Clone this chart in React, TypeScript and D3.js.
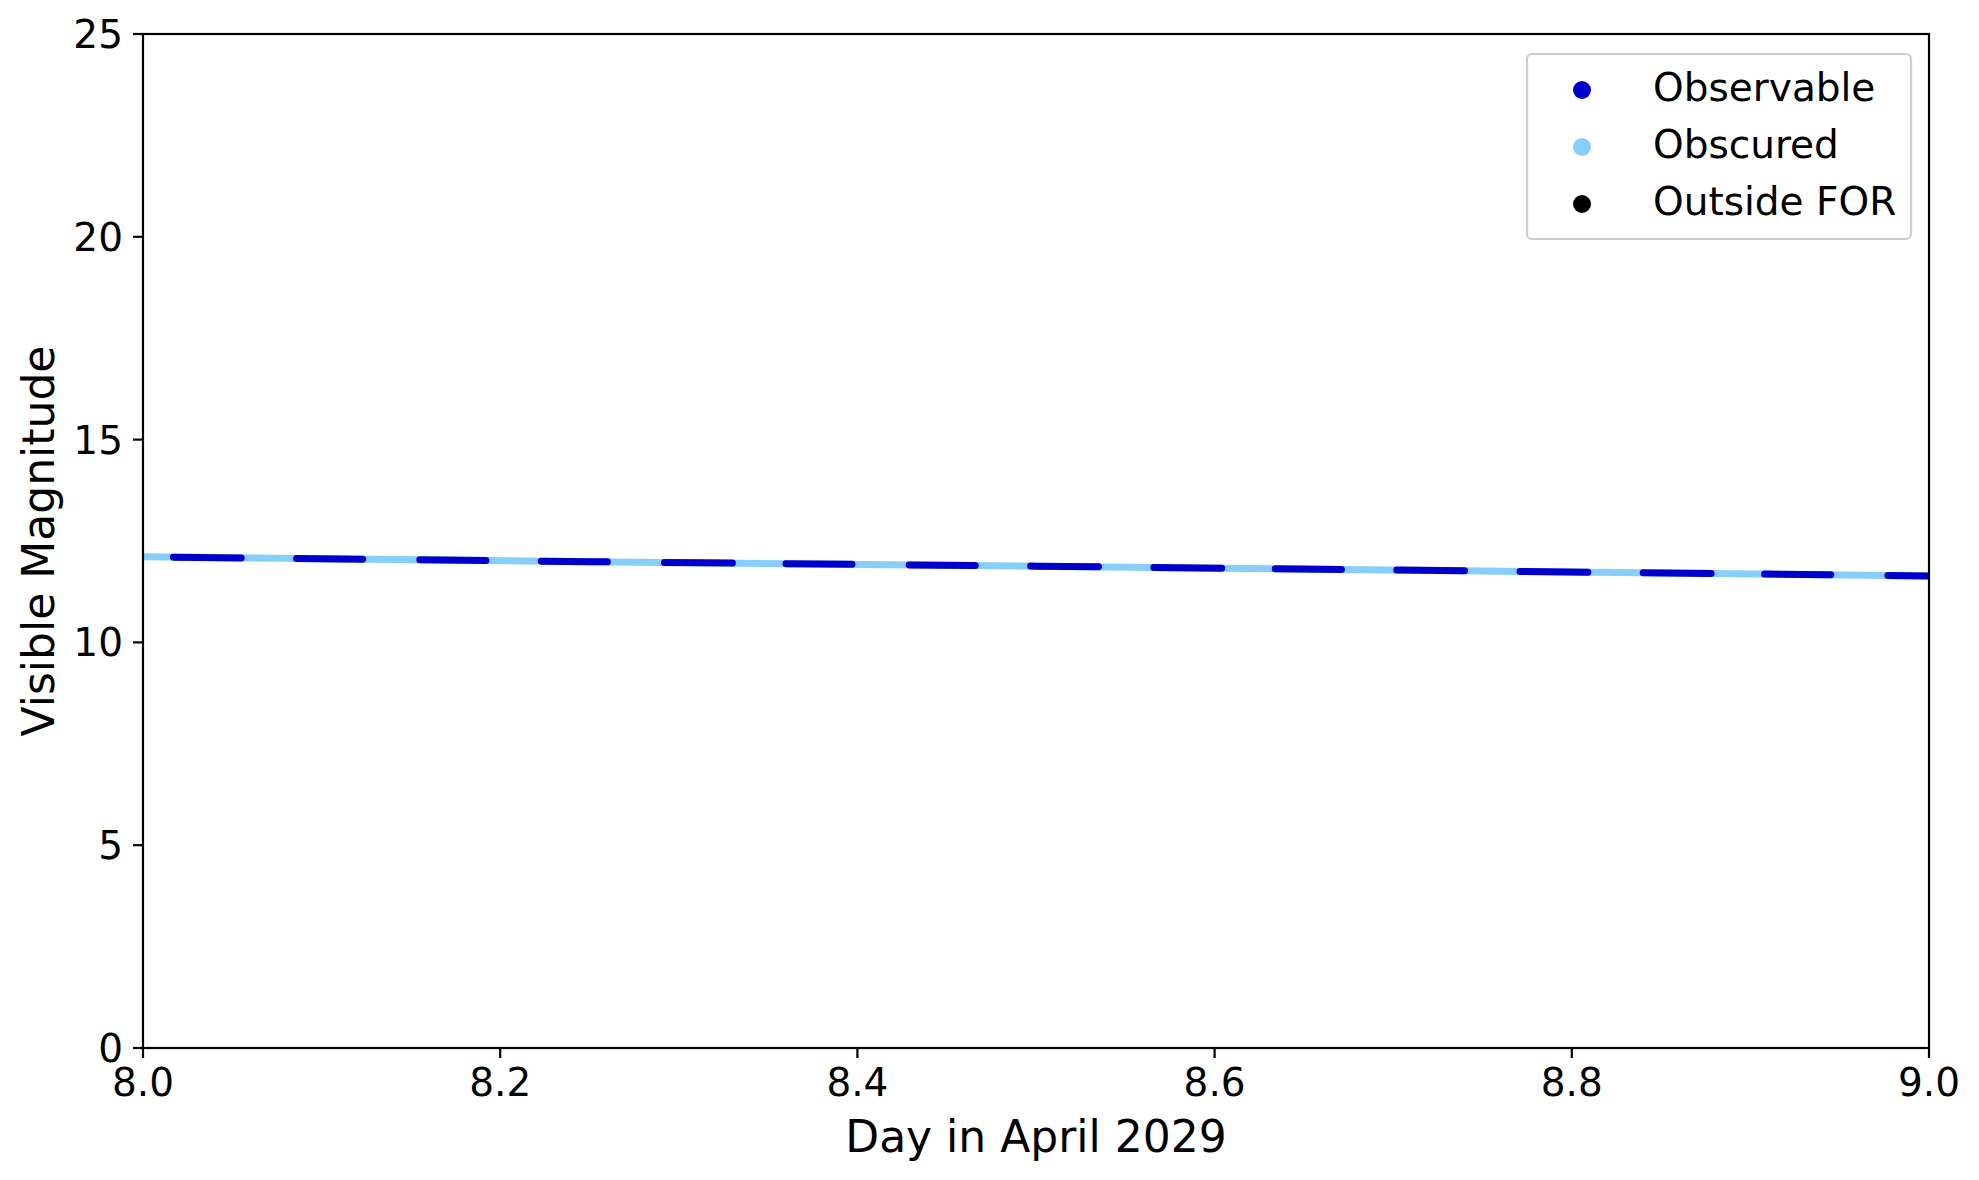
import React from 'react'
import * as d3 from 'd3'

// magnitude read at a few times across the day
const DAYS = [8.0, 8.25, 8.5, 8.75, 9.0]
const MAGNITUDES = [12.11, 11.99, 11.88, 11.76, 11.64]

// windows where the target is observable (rest of the time it is obscured)
const OBSERVABLE_START = [8.017, 8.086, 8.155, 8.223, 8.292, 8.360, 8.429, 8.497, 8.566, 8.634, 8.702, 8.771, 8.840, 8.908, 8.977]
const OBSERVABLE_END = [8.055, 8.123, 8.192, 8.260, 8.330, 8.397, 8.466, 8.535, 8.604, 8.671, 8.740, 8.809, 8.878, 8.945, 9.0]

const X_TICKS = [8.0, 8.2, 8.4, 8.6, 8.8, 9.0]
const Y_TICKS = [0, 5, 10, 15, 20, 25]

const LEGEND_LABELS = ['Observable', 'Obscured', 'Outside FOR']
const LEGEND_COLOURS = ['#0000cd', '#87cefa', '#000000']

const W = 1979
const H = 1180
const M = { left: 143, right: 1929, top: 34, bottom: 1048 }
const FONT = '"DejaVu Sans", sans-serif'

export default function App() {
  const x = d3.scaleLinear().domain([8, 9]).range([M.left, M.right])
  const y = d3.scaleLinear().domain([0, 25]).range([M.bottom, M.top])
  const mag = d3.scaleLinear().domain(DAYS).range(MAGNITUDES)

  const line = d3.line<number>().x(t => x(t)).y(t => y(mag(t)))

  // points along a window: its ends plus any anchor days inside it
  const pathFor = (a: number, b: number) => {
    const ts = [a, ...DAYS.filter(d => d > a && d < b), b]
    return line(ts) || ''
  }

  const runs = OBSERVABLE_START.map((s, i) => ({ s, e: OBSERVABLE_END[i] }))

  return (
    <svg width={W} height={H} style={{ position: 'absolute', left: 0, top: 0, background: '#fff' }}
      fontFamily={FONT}>
      <defs>
        <clipPath id="plot">
          <rect x={M.left} y={M.top} width={M.right - M.left} height={M.bottom - M.top} />
        </clipPath>
      </defs>

      <g clipPath="url(#plot)">
        {/* obscured underneath the whole way */}
        <path d={pathFor(8, 9)} fill="none" stroke="#87cefa" strokeWidth={7} strokeLinecap="round" />
        {runs.map((r, i) => (
          <path key={i} d={pathFor(r.s, r.e)} fill="none" stroke="#0000cd" strokeWidth={7} strokeLinecap="round" />
        ))}
      </g>

      {/* frame */}
      <rect x={M.left} y={M.top} width={M.right - M.left} height={M.bottom - M.top}
        fill="none" stroke="#000" strokeWidth={2.2} />

      {/* x axis */}
      {X_TICKS.map(t => (
        <g key={t}>
          <line x1={x(t)} x2={x(t)} y1={M.bottom} y2={M.bottom + 10} stroke="#000" strokeWidth={2.2} />
          <text x={x(t)} y={M.bottom + 48} textAnchor="middle" fontSize={39}>{t.toFixed(1)}</text>
        </g>
      ))}
      <text x={(M.left + M.right) / 2} y={1152} textAnchor="middle" fontSize={44}>Day in April 2029</text>

      {/* y axis */}
      {Y_TICKS.map(t => (
        <g key={t}>
          <line x1={M.left - 10} x2={M.left} y1={y(t)} y2={y(t)} stroke="#000" strokeWidth={2.2} />
          <text x={M.left - 20} y={y(t) + 14} textAnchor="end" fontSize={39}>{t}</text>
        </g>
      ))}
      <text transform={`translate(54,${(M.top + M.bottom) / 2}) rotate(-90)`} textAnchor="middle" fontSize={44}>
        Visible Magnitude
      </text>

      {/* legend */}
      <rect x={1527} y={54} width={384} height={185} rx={5} fill="#fff" fillOpacity={0.8}
        stroke="#cccccc" strokeWidth={2.2} />
      {LEGEND_LABELS.map((lab, i) => (
        <g key={lab}>
          <circle cx={1582} cy={90 + i * 57} r={9} fill={LEGEND_COLOURS[i]} />
          <text x={1653} y={101 + i * 57} fontSize={39}>{lab}</text>
        </g>
      ))}
    </svg>
  )
}
